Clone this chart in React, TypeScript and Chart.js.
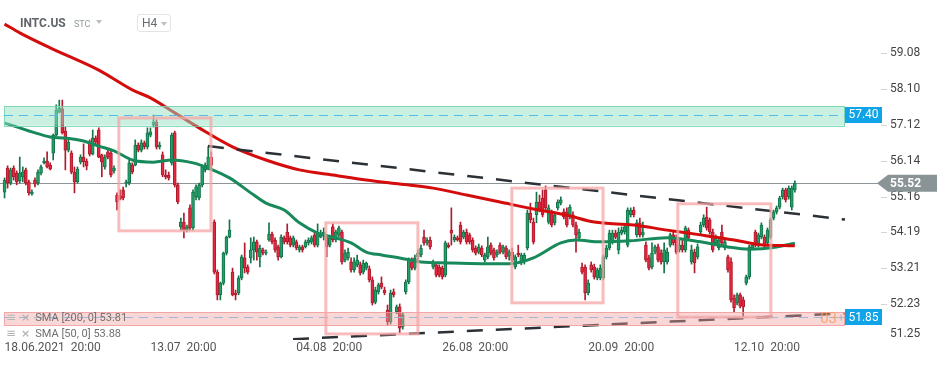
import React, { useEffect, useRef } from "react";
import { Chart, registerables } from "chart.js";

Chart.register(...registerables);

// ---- DATA -------------------------------------------------------------
// candles [open, high, low, close], H4 bars, index 0 = 18.06.2021 20:00
const candlesJun: number[][] = [
  [55.28, 55.67, 55.12, 55.61], [55.94, 56.00, 55.39, 55.53], [55.53, 55.94, 55.48, 55.89], [55.94, 56.00, 55.61, 55.70],
  [55.80, 55.86, 55.48, 55.56], [55.59, 56.24, 55.53, 55.80], [55.70, 55.97, 55.56, 55.83], [55.89, 55.94, 55.48, 55.53],
  [55.56, 55.61, 55.20, 55.26], [55.23, 55.34, 55.20, 55.28], [55.61, 55.67, 55.42, 55.50], [55.53, 55.89, 55.48, 55.83],
  [55.80, 56.02, 55.75, 55.97], [56.08, 56.22, 56.05, 56.13], [56.13, 56.38, 55.94, 55.97], [56.02, 56.08, 55.89, 55.91],
  [56.35, 56.87, 56.16, 56.84], [56.84, 57.67, 56.82, 57.53], [57.47, 57.80, 57.45, 57.58], [57.56, 57.80, 56.87, 56.90],
  [56.95, 57.06, 55.89, 56.43], [56.43, 56.71, 56.38, 56.65], [56.35, 56.41, 55.78, 55.83], [55.83, 55.97, 55.26, 55.56],
  [55.56, 55.97, 55.53, 55.91], [56.11, 56.30, 56.05, 56.24], [56.24, 56.60, 55.97, 56.11], [56.13, 56.19, 55.89, 56.00],
  [56.65, 56.71, 56.27, 56.32], [56.32, 56.98, 56.30, 56.76], [56.76, 56.82, 56.60, 56.65], [56.98, 57.04, 56.22, 56.24],
  [56.30, 56.32, 55.70, 56.11], [55.97, 56.30, 55.91, 56.24], [56.38, 56.43, 56.19, 56.24], [56.35, 56.41, 55.70, 55.75],
  [55.86, 56.00, 55.80, 55.94], [55.20, 55.26, 54.79, 55.01], [55.17, 55.34, 55.07, 55.09], [55.34, 55.42, 55.07, 55.12],
  [55.53, 55.61, 55.42, 55.56], [55.53, 56.16, 55.48, 56.08], [56.02, 56.08, 55.78, 55.83], [56.02, 56.71, 56.00, 56.57],
  [56.57, 56.63, 56.38, 56.43], [56.43, 56.71, 56.38, 56.63], [56.63, 56.68, 56.46, 56.52], [56.52, 57.04, 56.46, 56.90],
];
const candlesJul: number[][] = [
  [56.84, 57.04, 56.79, 56.93], [57.12, 57.39, 57.06, 57.20], [57.20, 57.26, 56.46, 56.52], [56.52, 56.65, 56.46, 56.57],
  [56.30, 56.38, 55.70, 55.75], [55.75, 55.89, 55.64, 55.70], [55.75, 55.83, 55.61, 55.67], [56.08, 56.90, 56.02, 56.84],
  [56.90, 56.95, 55.42, 55.48], [55.48, 55.53, 54.96, 55.01], [54.33, 54.57, 54.24, 54.46], [54.46, 54.71, 54.03, 54.24],
  [54.24, 54.38, 54.19, 54.33], [54.85, 54.93, 54.24, 54.30], [54.30, 55.34, 54.24, 55.28], [55.15, 55.48, 55.07, 55.42],
  [55.12, 55.53, 55.07, 55.48], [55.48, 56.02, 55.42, 55.97], [55.89, 56.08, 55.83, 56.02], [55.94, 56.52, 55.89, 56.24],
  [56.24, 56.38, 55.94, 56.02], [54.46, 54.52, 53.04, 53.09], [53.09, 53.15, 52.33, 52.47], [52.47, 52.82, 52.33, 52.79],
  [52.79, 53.64, 52.74, 53.61], [53.61, 54.08, 53.56, 54.05], [54.05, 54.52, 54.03, 54.24], [53.09, 53.20, 52.44, 52.47],
  [52.52, 52.60, 52.33, 52.47], [52.52, 52.99, 52.47, 52.93], [52.93, 53.56, 52.88, 53.51], [53.48, 53.89, 53.07, 53.20],
  [53.23, 53.29, 53.04, 53.09], [53.48, 54.03, 53.34, 53.70], [53.70, 54.05, 53.42, 53.92], [53.92, 53.97, 53.42, 53.64],
  [53.51, 53.83, 53.23, 53.75], [53.70, 53.75, 53.56, 53.61], [53.61, 53.70, 53.56, 53.64], [53.97, 54.44, 53.94, 54.13],
  [54.13, 54.19, 53.86, 53.92], [53.97, 54.03, 53.64, 53.70], [53.78, 53.83, 53.42, 53.51], [53.51, 54.11, 53.48, 54.05],
  [54.03, 54.08, 53.86, 53.92], [54.19, 54.41, 53.86, 53.92], [54.03, 54.08, 53.78, 53.83], [53.83, 54.08, 53.78, 54.03],
];
const candlesAug: number[][] = [
  [53.92, 53.97, 53.70, 53.75], [53.70, 53.83, 53.64, 53.78], [53.78, 53.83, 53.64, 53.70], [53.78, 53.97, 53.75, 53.92],
  [53.89, 54.03, 53.83, 53.97], [53.92, 54.08, 53.86, 54.03], [54.11, 54.19, 53.78, 53.83], [53.83, 54.41, 53.78, 54.16],
  [54.05, 54.24, 54.03, 54.16], [54.08, 54.30, 53.97, 54.19], [54.05, 54.11, 53.51, 53.78], [53.83, 54.08, 53.78, 54.03],
  [54.33, 54.41, 53.92, 53.97], [53.97, 54.24, 53.92, 54.19], [54.11, 54.35, 54.05, 54.30], [54.19, 54.24, 53.31, 53.37],
  [53.42, 53.70, 53.37, 53.61], [53.48, 53.75, 53.42, 53.64], [53.37, 53.48, 53.09, 53.15], [53.15, 53.48, 53.09, 53.37],
  [53.29, 53.56, 53.23, 53.42], [53.29, 53.37, 53.01, 53.07], [53.09, 53.42, 53.04, 53.34], [53.20, 53.37, 53.15, 53.34],
  [53.18, 53.26, 52.82, 52.88], [52.88, 52.96, 52.19, 52.25], [52.27, 52.68, 52.22, 52.60], [52.55, 52.79, 52.49, 52.74],
  [52.79, 52.96, 52.63, 52.68], [52.60, 52.68, 52.47, 52.52], [52.05, 52.19, 51.64, 51.73], [51.73, 52.60, 51.67, 52.52],
  [52.55, 52.63, 52.41, 52.47], [52.00, 52.19, 51.95, 52.14], [52.14, 52.22, 51.43, 51.56], [51.59, 51.97, 51.53, 51.92],
  [52.55, 52.88, 52.49, 52.82], [52.82, 53.48, 52.77, 53.42], [53.37, 53.48, 53.15, 53.20], [53.20, 53.56, 53.15, 53.48],
  [53.51, 53.70, 53.34, 53.61], [53.56, 53.83, 53.51, 53.75], [54.05, 54.24, 53.83, 53.89], [53.89, 54.03, 53.83, 53.97],
  [53.97, 54.05, 53.72, 53.78], [53.23, 53.42, 53.18, 53.34], [53.29, 53.34, 52.96, 53.01], [53.23, 53.29, 52.96, 53.01],
];
const candlesSep: number[][] = [
  [53.20, 53.26, 52.90, 52.96], [53.01, 53.94, 52.96, 53.89], [53.83, 53.89, 53.75, 53.78], [54.24, 54.85, 53.83, 54.16],
  [53.97, 54.11, 53.92, 54.05], [54.03, 54.08, 53.94, 53.97], [54.38, 54.46, 53.86, 53.92], [54.05, 54.24, 54.00, 54.19],
  [54.19, 54.27, 53.86, 53.92], [54.11, 54.16, 53.86, 53.92], [53.97, 54.03, 53.64, 53.70], [53.75, 53.81, 53.56, 53.61],
  [53.64, 53.86, 53.59, 53.78], [53.75, 53.81, 53.51, 53.56], [53.42, 53.61, 53.37, 53.56], [53.51, 54.05, 53.45, 53.78],
  [53.83, 53.89, 53.56, 53.61], [53.70, 53.75, 53.42, 53.48], [53.56, 53.70, 53.51, 53.64], [53.83, 53.89, 53.59, 53.64],
  [53.64, 53.83, 53.59, 53.78], [53.75, 53.81, 53.45, 53.51], [53.53, 53.70, 53.42, 53.64], [53.64, 53.75, 53.37, 53.42],
  [53.23, 53.56, 53.18, 53.51], [53.61, 53.83, 53.51, 53.56], [53.34, 53.61, 53.29, 53.56], [53.37, 53.61, 53.31, 53.56],
  [53.75, 54.79, 53.70, 54.71], [54.71, 54.98, 54.44, 54.52], [54.46, 54.57, 53.86, 53.92], [54.66, 55.28, 54.44, 55.01],
  [55.01, 55.20, 54.74, 54.79], [55.12, 55.34, 54.60, 54.66], [55.34, 55.45, 54.79, 54.85], [54.46, 54.93, 54.41, 54.85],
  [54.71, 54.79, 54.33, 54.38], [54.44, 54.74, 54.38, 54.66], [54.85, 55.07, 54.79, 55.01], [54.98, 55.15, 54.93, 55.07],
  [54.74, 54.82, 54.55, 54.60], [54.74, 54.85, 54.33, 54.38], [54.60, 54.93, 54.55, 54.87], [54.66, 54.74, 54.33, 54.38],
  [54.38, 54.46, 53.64, 54.11], [54.03, 54.27, 53.97, 54.19], [53.23, 53.34, 53.04, 53.09], [53.23, 53.29, 52.33, 52.52],
];
const candlesSepOct: number[][] = [
  [52.52, 52.88, 52.47, 52.79], [53.29, 53.37, 53.09, 53.15], [53.23, 53.31, 52.90, 52.96], [52.93, 53.20, 52.88, 53.15],
  [52.93, 53.29, 52.88, 53.20], [52.93, 53.56, 52.88, 53.51], [53.51, 53.83, 53.45, 53.75], [53.75, 54.24, 53.70, 54.16],
  [53.92, 54.24, 53.86, 54.16], [54.16, 54.24, 54.00, 54.05], [53.70, 54.30, 53.59, 54.19], [54.16, 54.33, 54.11, 54.24],
  [54.19, 54.38, 54.13, 54.33], [53.83, 54.85, 53.78, 54.79], [54.66, 54.85, 54.60, 54.79], [54.79, 54.87, 54.60, 54.66],
  [54.11, 54.52, 54.05, 54.44], [54.44, 54.57, 54.05, 54.11], [54.11, 54.46, 54.05, 54.19], [53.83, 53.92, 53.37, 53.42],
  [53.48, 53.56, 53.15, 53.20], [53.23, 53.89, 53.18, 53.61], [53.64, 53.83, 53.59, 53.78], [53.78, 53.86, 53.37, 53.42],
  [53.61, 53.70, 53.31, 53.37], [53.37, 53.89, 53.07, 53.70], [53.37, 53.75, 53.31, 53.64], [53.83, 54.16, 53.78, 54.11],
  [54.11, 54.19, 53.83, 53.89], [54.03, 54.11, 53.59, 53.64], [53.70, 53.97, 53.64, 53.83], [53.83, 53.97, 53.64, 53.70],
  [53.70, 54.35, 53.64, 54.30], [54.24, 54.30, 53.97, 54.03], [53.37, 53.83, 53.31, 53.70], [53.64, 53.72, 53.07, 53.34],
  [53.51, 53.86, 53.45, 53.78], [54.19, 54.46, 54.13, 54.38], [54.38, 54.66, 54.33, 54.57], [54.60, 54.87, 54.24, 54.30],
  [54.52, 54.57, 54.13, 54.19], [54.19, 54.27, 53.64, 53.70], [53.89, 54.11, 53.83, 54.05], [53.75, 54.03, 53.70, 53.97],
  [54.19, 54.38, 53.83, 53.89], [53.75, 53.97, 53.70, 53.92], [53.51, 53.56, 53.09, 53.15], [53.37, 53.48, 52.27, 52.33],
];
const candlesOct: number[][] = [
  [52.38, 52.47, 52.00, 52.11], [52.25, 52.52, 52.19, 52.47], [52.47, 52.52, 52.11, 52.16], [52.33, 52.41, 51.86, 52.14],
  [52.79, 53.01, 52.74, 52.96], [52.96, 53.83, 52.90, 53.78], [53.75, 53.89, 53.70, 53.83], [54.19, 54.24, 53.78, 53.83],
  [53.83, 54.16, 53.78, 54.11], [54.05, 54.44, 54.00, 54.38], [54.05, 54.11, 53.78, 53.83], [53.89, 54.30, 53.83, 54.24],
  [54.05, 54.57, 54.00, 54.52], [54.57, 54.79, 54.52, 54.74], [54.74, 54.90, 54.68, 54.85], [54.87, 55.17, 54.82, 55.12],
  [55.15, 55.39, 55.09, 55.34], [55.34, 55.39, 55.01, 55.07], [55.15, 55.45, 55.09, 55.39], [54.87, 55.45, 54.79, 55.39],
  [55.34, 55.59, 55.28, 55.52],
];

// moving averages sampled at [bar index, value]
const sma200Points: number[][] = [
  [0, 59.88], [5, 59.64], [15, 59.23], [31, 58.62], [42, 58.08], [48, 57.86], [56, 57.45], [64, 57.04], [75, 56.52],
  [86, 56.16], [97, 55.89], [108, 55.75], [119, 55.61], [130, 55.50], [141, 55.39], [152, 55.20], [163, 55.01],
  [174, 54.82], [185, 54.65], [194, 54.46], [207, 54.38], [218, 54.24], [229, 54.11], [240, 53.97], [248, 53.85], [260, 53.81],
];
const sma50Points: number[][] = [
  [0, 57.17], [5, 57.04], [9, 56.93], [15, 56.79], [20, 56.76], [26, 56.68], [31, 56.54], [36, 56.41], [42, 56.16],
  [49, 56.10], [55, 56.16], [62, 56.08], [67, 55.94], [74, 55.67], [81, 55.26], [86, 54.98], [92, 54.79], [97, 54.44],
  [103, 54.16], [108, 54.05], [114, 53.89], [119, 53.64], [124, 53.56], [130, 53.48], [137, 53.37], [146, 53.34],
  [157, 53.32], [166, 53.32], [174, 53.48], [183, 53.89], [188, 53.97], [196, 53.92], [206, 53.95], [218, 54.03],
  [229, 53.92], [238, 53.78], [245, 53.72], [254, 53.78], [260, 53.88],
];

// trend lines [bar index, price]
const upperTrend: number[][] = [[66.9, 56.54], [276.5, 54.53]];
const lowerTrend: number[][] = [[94.9, 51.255], [276.5, 51.96]];

// highlighted boxes [start index, end index, top price, bottom price]
const boxes: number[][] = [
  [37.6, 67.9, 57.31, 54.22],
  [105.7, 136.0, 54.44, 51.40],
  [166.9, 196.9, 55.39, 52.25],
  [221.5, 252.1, 54.96, 51.86],
];

const resistanceZone = [57.64, 57.1];
const resistanceLevel = 57.4;
const supportZone = [51.99, 51.63];
const supportLevel = 51.85;
const zoneStartIdx = -0.2;
const lastPrice = 55.52;
const sma200Last = 53.81;
const sma50Last = 53.88;

const priceTicks = [51.25, 52.23, 53.21, 54.19, 55.16, 56.14, 57.12, 58.1, 59.08];
const timeTickIdx = [0, 48, 96, 144, 192, 240];
const timeTickLabels = ["18.06.2021  20:00", "13.07  20:00", "04.08  20:00", "26.08  20:00", "20.09  20:00", "12.10  20:00"];

const X_MIN = -1.5;
const X_MAX = 276.5;
const Y_MIN = 51.233;
const Y_MAX = 60.539;

// ---- CHART ------------------------------------------------------------
const FONT = "Roboto, 'Noto Sans', sans-serif";

const overlayPlugin = {
  id: "overlays",
  beforeDatasetsDraw(chart: any) {
    const { ctx, chartArea, scales } = chart;
    const py = Math.round(scales.y.getPixelForValue(lastPrice)) + 0.5;
    ctx.save();
    ctx.strokeStyle = "#8d9598";
    ctx.lineWidth = 1;
    ctx.beginPath();
    ctx.moveTo(chartArea.left, py);
    ctx.lineTo(chartArea.right + 33, py);
    ctx.stroke();
    ctx.restore();
  },
  afterDatasetsDraw(chart: any) {
    const { ctx, chartArea, scales } = chart;
    const x = scales.x;
    const y = scales.y;
    const left = x.getPixelForValue(zoneStartIdx);
    const right = chartArea.right;
    ctx.save();
    const zone = (z: number[], level: number, fill: string, stroke: string, dash: string) => {
      const y0 = y.getPixelForValue(z[0]);
      const y1 = y.getPixelForValue(z[1]);
      ctx.fillStyle = fill;
      ctx.fillRect(left, y0, right - left, y1 - y0);
      ctx.strokeStyle = stroke;
      ctx.lineWidth = 1;
      ctx.strokeRect(left + 0.5, Math.round(y0) + 0.5, right - left - 1, Math.round(y1 - y0));
      const ly = Math.round(y.getPixelForValue(level)) + 0.5;
      ctx.setLineDash([9, 6]);
      ctx.strokeStyle = dash;
      ctx.beginPath();
      ctx.moveTo(left, ly);
      ctx.lineTo(right, ly);
      ctx.stroke();
      ctx.setLineDash([]);
    };
    zone(resistanceZone, resistanceLevel, "rgba(150,225,197,0.5)", "rgba(110,210,170,0.8)", "#52bde6");
    zone(supportZone, supportLevel, "rgba(242,160,160,0.42)", "rgba(240,150,150,0.8)", "#9db7d6");

    ctx.strokeStyle = "rgba(245,165,165,0.75)";
    ctx.lineWidth = 3;
    boxes.forEach((b) => {
      const x0 = x.getPixelForValue(b[0]);
      const x1 = x.getPixelForValue(b[1]);
      const y0 = y.getPixelForValue(b[2]);
      const y1 = y.getPixelForValue(b[3]);
      ctx.strokeRect(x0, y0, x1 - x0, y1 - y0);
    });
    ctx.restore();
  },
  afterDraw(chart: any) {
    const { ctx, chartArea, scales } = chart;
    const y = scales.y;
    const r = chartArea.right;
    ctx.save();
    // small tick marks next to price labels
    ctx.strokeStyle = "#d4d4d4";
    ctx.lineWidth = 1;
    priceTicks.forEach((v) => {
      const ty = Math.round(y.getPixelForValue(v)) + 0.5;
      if (ty < chartArea.bottom - 4) {
        ctx.beginPath();
        ctx.moveTo(r + 36, ty);
        ctx.lineTo(r + 42, ty);
        ctx.stroke();
      }
    });
    // lowest price label, kept inside the axis band
    const lowTick = priceTicks[0];
    ctx.fillStyle = "#444444";
    ctx.font = `12px ${FONT}`;
    ctx.textAlign = "left";
    ctx.textBaseline = "middle";
    ctx.fillText(lowTick.toFixed(2), r + 45, Math.min(y.getPixelForValue(lowTick), chartArea.bottom - 6));
    // blue level labels
    [resistanceLevel, supportLevel].forEach((lv) => {
      const cy = y.getPixelForValue(lv);
      ctx.fillStyle = "#10a3e8";
      ctx.fillRect(r, Math.round(cy - 8), 37, 16);
      ctx.fillStyle = "#ffffff";
      ctx.font = `12px ${FONT}`;
      ctx.textAlign = "center";
      ctx.textBaseline = "middle";
      ctx.fillText(lv.toFixed(2), r + 18.5, cy + 0.5);
    });
    // last price tag
    const cy = y.getPixelForValue(lastPrice);
    ctx.fillStyle = "#8a9396";
    ctx.beginPath();
    ctx.moveTo(r + 32, cy);
    ctx.lineTo(r + 43, cy - 8.5);
    ctx.lineTo(r + 92, cy - 8.5);
    ctx.lineTo(r + 92, cy + 8.5);
    ctx.lineTo(r + 43, cy + 8.5);
    ctx.closePath();
    ctx.fill();
    ctx.fillStyle = "#ffffff";
    ctx.font = `bold 12px ${FONT}`;
    ctx.textAlign = "left";
    ctx.textBaseline = "middle";
    ctx.fillText(lastPrice.toFixed(2), r + 45, cy + 0.5);
    // countdown text
    const sy = y.getPixelForValue(supportLevel);
    ctx.fillStyle = "rgba(247,160,95,0.85)";
    ctx.font = `15px ${FONT}`;
    ctx.textAlign = "right";
    ctx.fillText("03", r - 8, sy + 2);
    ctx.fillStyle = "#b0b0b0";
    ctx.font = `11px ${FONT}`;
    ctx.textAlign = "left";
    ctx.fillText("+", r - 7, sy + 1);
    ctx.restore();
  },
};

export default function App() {
  const canvasRef = useRef<HTMLCanvasElement>(null);

  useEffect(() => {
    const canvas = canvasRef.current;
    if (!canvas) return;
    const candles = [...candlesJun, ...candlesJul, ...candlesAug, ...candlesSep, ...candlesSepOct, ...candlesOct];
    const GREEN = "#23a067";
    const GREEN_D = "#13744a";
    const RED = "#e5283f";
    const RED_D = "#b01a2d";
    const up = candles.map((c) => c[3] >= c[0]);
    const bodies = candles.map((c, i) => ({ x: i, y: [c[0], c[3]] }));
    const wicks = candles.map((c, i) => ({ x: i, y: [c[2], c[1]] }));
    const pts = (a: number[][]) => a.map((p) => ({ x: p[0], y: p[1] }));

    const chart = new Chart(canvas, {
      type: "bar",
      data: {
        datasets: [
          {
            type: "line",
            data: pts(upperTrend),
            borderColor: "#2b3136",
            borderWidth: 2.5,
            borderDash: [16, 13],
            pointRadius: 0,
            order: 0,
          } as any,
          {
            type: "line",
            data: pts(lowerTrend),
            borderColor: "#2b3136",
            borderWidth: 2.5,
            borderDash: [16, 13],
            pointRadius: 0,
            order: 0,
          } as any,
          {
            type: "line",
            data: pts(sma200Points),
            borderColor: "#d40c0c",
            borderWidth: 3,
            pointRadius: 0,
            cubicInterpolationMode: "monotone",
            order: 1,
          } as any,
          {
            type: "line",
            data: pts(sma50Points),
            borderColor: "#17895a",
            borderWidth: 3,
            pointRadius: 0,
            cubicInterpolationMode: "monotone",
            order: 1,
          } as any,
          {
            type: "bar",
            data: bodies,
            backgroundColor: up.map((u) => (u ? GREEN : RED)),
            borderColor: up.map((u) => (u ? GREEN_D : RED_D)),
            borderWidth: 1,
            borderSkipped: false,
            barThickness: 3,
            minBarLength: 1,
            grouped: false,
            order: 2,
          } as any,
          {
            type: "bar",
            data: wicks,
            backgroundColor: up.map((u) => (u ? GREEN_D : RED_D)),
            borderWidth: 0,
            barThickness: 1,
            grouped: false,
            order: 3,
          } as any,
        ],
      },
      options: {
        responsive: false,
        animation: false,
        devicePixelRatio: 1,
        events: [],
        layout: { padding: 0 },
        plugins: { legend: { display: false }, tooltip: { enabled: false } },
        scales: {
          x: {
            type: "linear",
            min: X_MIN,
            max: X_MAX,
            offset: false,
            grid: { display: false, drawTicks: false },
            border: { display: false },
            afterBuildTicks: (s: any) => {
              s.ticks = timeTickIdx.map((v) => ({ value: v }));
            },
            afterFit: (s: any) => {
              s.height = 25;
              s.paddingLeft = 0;
              s.paddingRight = 0;
            },
            ticks: {
              autoSkip: false,
              maxRotation: 0,
              minRotation: 0,
              align: "start",
              padding: 1,
              color: "#555555",
              font: { family: FONT, size: 12 },
              callback: (_v: any, i: number) => timeTickLabels[i],
            },
          },
          y: {
            type: "linear",
            position: "right",
            min: Y_MIN,
            max: Y_MAX,
            grid: { display: false, drawTicks: false },
            border: { display: false },
            afterBuildTicks: (s: any) => {
              s.ticks = priceTicks.map((v) => ({ value: v }));
            },
            afterFit: (s: any) => {
              s.width = 105;
              s.paddingTop = 0;
              s.paddingBottom = 0;
            },
            ticks: {
              autoSkip: false,
              padding: 45,
              color: "#444444",
              font: { family: FONT, size: 12 },
              callback: (v: any) => (Number(v) === priceTicks[0] ? "" : Number(v).toFixed(2)),
            },
          },
        },
      } as any,
      plugins: [overlayPlugin],
    });
    return () => chart.destroy();
  }, []);

  const tri = (left: number, top: number) => (
    <div
      style={{
        position: "absolute",
        left,
        top,
        width: 0,
        height: 0,
        borderLeft: "3.5px solid transparent",
        borderRight: "3.5px solid transparent",
        borderTop: "4px solid #b9bfc3",
      }}
    />
  );

  const legendRow = (top: number, text: string) => (
    <div
      style={{
        position: "absolute",
        left: 6,
        top,
        height: 12,
        lineHeight: "12px",
        whiteSpace: "nowrap",
        fontFamily: FONT,
        fontSize: 11,
        color: "#707070",
      }}
    >
      <span style={{ fontFamily: "'DejaVu Sans'", color: "#b5b5b5", fontSize: 12 }}>≡</span>
      <span style={{ fontFamily: "'DejaVu Sans'", color: "#b5b5b5", fontSize: 11, marginLeft: 5, fontWeight: "bold" }}>×</span>
      <span style={{ marginLeft: 5 }}>{text}</span>
    </div>
  );

  return (
    <div style={{ position: "absolute", left: 0, top: 0, width: 950, height: 365, background: "#ffffff", overflow: "hidden" }}>
      <canvas ref={canvasRef} width={950} height={365} style={{ position: "absolute", left: 0, top: 0 }} />
      <div
        style={{
          position: "absolute",
          left: 20,
          top: 16,
          fontFamily: FONT,
          fontWeight: "bold",
          fontSize: 12,
          lineHeight: "14px",
          color: "#5f6569",
        }}
      >
        INTC.US
      </div>
      <div
        style={{
          position: "absolute",
          left: 74,
          top: 19,
          fontFamily: FONT,
          fontSize: 9,
          lineHeight: "10px",
          color: "#8e9ba3",
        }}
      >
        STC
      </div>
      {tri(96, 20)}
      <div
        style={{
          position: "absolute",
          left: 137,
          top: 14,
          width: 34,
          height: 18,
          boxSizing: "border-box",
          border: "1px solid #e2e4e6",
          borderRadius: 3,
          background: "#ffffff",
        }}
      >
        <div
          style={{
            position: "absolute",
            left: 4,
            top: 1,
            fontFamily: FONT,
            fontSize: 12,
            lineHeight: "15px",
            color: "#666b6f",
          }}
        >
          H4
        </div>
      </div>
      {tri(161, 22)}
      {legendRow(311, `SMA [200, 0] ${sma200Last.toFixed(2)}`)}
      {legendRow(327, `SMA [50, 0] ${sma50Last.toFixed(2)}`)}
    </div>
  );
}
